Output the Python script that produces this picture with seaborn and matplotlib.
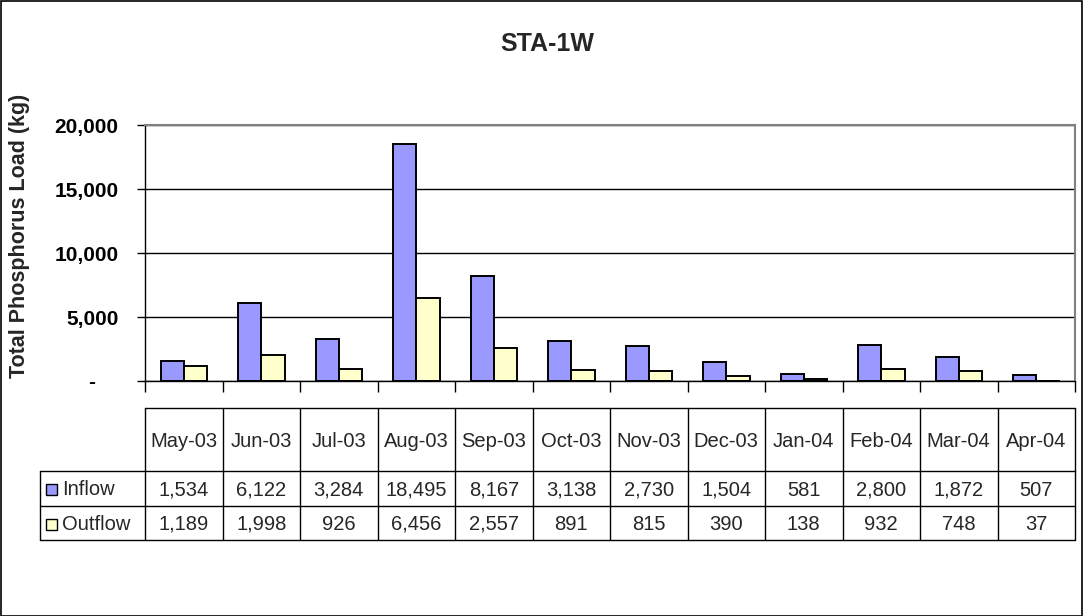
import matplotlib
matplotlib.use("Agg")
import matplotlib.pyplot as plt
import matplotlib.transforms as mtransforms
from matplotlib.lines import Line2D
from matplotlib.patches import Rectangle
import seaborn as sns
import pandas as pd

months = ["May-03", "Jun-03", "Jul-03", "Aug-03", "Sep-03", "Oct-03",
          "Nov-03", "Dec-03", "Jan-04", "Feb-04", "Mar-04", "Apr-04"]
inflow = [1534, 6122, 3284, 18495, 8167, 3138, 2730, 1504, 581, 2800, 1872, 507]
outflow = [1189, 1998, 926, 6456, 2557, 891, 815, 390, 138, 932, 748, 37]
series = ["Inflow", "Outflow"]
colors = ["#9999FF", "#FFFFCC"]
yticks = [0, 5000, 10000, 15000, 20000]

sns.set_theme(style="white")
plt.rcParams['font.family'] = ['Liberation Sans', 'DejaVu Sans']

df = pd.DataFrame({
    "Month": months * 2,
    "Load": inflow + outflow,
    "Series": [series[0]] * len(months) + [series[1]] * len(months),
})

W, H = 1083, 616
fig = plt.figure(figsize=(W / 100, H / 100), dpi=100)
fig.patch.set_facecolor("white")

# plot area pixels
x0, x1, ytop, ybot = 145, 1075, 125, 381
ax = fig.add_axes([x0 / W, (H - ybot) / H, (x1 - x0) / W, (ybot - ytop) / H])

sns.barplot(data=df, x="Month", y="Load", hue="Series", order=months,
            hue_order=series, palette=colors, width=0.6, saturation=1,
            edgecolor="black", linewidth=1.4, ax=ax, legend=False, errorbar=None)

ax.set_xlim(-0.5, len(months) - 0.5)
ax.set_ylim(0, 20000)
ax.set_yticks(yticks)
ax.set_yticklabels(["-    " if v == 0 else f"{v:,}" for v in yticks],
                   fontweight="bold", fontsize=15)
ax.yaxis.grid(True, color="black", linewidth=1)
ax.set_axisbelow(True)
ax.set_xticks([i - 0.5 for i in range(len(months) + 1)])
ax.set_xticklabels([])
ax.tick_params(axis="x", bottom=True, length=8, width=1, color="black", direction="out")
ax.tick_params(axis="y", left=True, length=6, width=1, color="black", direction="out",
               pad=13, labelcolor="black")
ax.set_xlabel("")
ax.set_ylabel("")
for s in ["left", "bottom"]:
    ax.spines[s].set_color("black")
    ax.spines[s].set_linewidth(1)
for s in ["top", "right"]:
    ax.spines[s].set_color("#808080")
    ax.spines[s].set_linewidth(1.5)

fig.text(547 / W, 1 - 44 / H, "STA-1W", ha="center", va="center",
         fontsize=18, fontweight="bold")
fig.text(20 / W, 1 - 236 / H, "Total Phosphorus Load (kg)", ha="center", va="center",
         rotation=90, fontsize=15.5, fontweight="bold")

# data table below
trans = mtransforms.blended_transform_factory(ax.transData, ax.transAxes)
hpx = ybot - ytop
def ay(py):
    return (ybot - py) / hpx

unit = (x1 - x0) / len(months)
xl = -0.5 - (x0 - 40) / unit
xr = len(months) - 0.5
r0, r1, r2, r3 = 408, 471, 506, 540

lw = 1
def hline(xa, xb, py):
    ax.add_line(Line2D([xa, xb], [ay(py), ay(py)], transform=trans, color="black",
                       lw=lw, clip_on=False))
def vline(x, pa, pb):
    ax.add_line(Line2D([x, x], [ay(pa), ay(pb)], transform=trans, color="black",
                       lw=lw, clip_on=False))

hline(-0.5, xr, r0)
hline(xl, xr, r1)
hline(xl, xr, r2)
hline(xl, xr, r3)
for i in range(len(months) + 1):
    vline(i - 0.5, r0, r3)
vline(xl, r1, r3)

fs = 14.5
for i, m in enumerate(months):
    ax.text(i, ay((r0 + r1) / 2 + 2), m, transform=trans, ha="center", va="center",
            fontsize=fs, clip_on=False)
    ax.text(i, ay((r1 + r2) / 2 + 2), f"{inflow[i]:,}", transform=trans, ha="center",
            va="center", fontsize=fs, clip_on=False)
    ax.text(i, ay((r2 + r3) / 2 + 1), f"{outflow[i]:,}", transform=trans, ha="center",
            va="center", fontsize=fs, clip_on=False)

# legend keys in row headers
sq = 11
for k, (name, col, (ra, rb)) in enumerate(zip(series, colors, [(r1, r2), (r2, r3)])):
    cy = (ra + rb) / 2 + 1
    ax.add_patch(Rectangle((-0.5 - (x0 - 46) / unit, ay(cy + sq / 2)), sq / unit, sq / hpx,
                           transform=trans, facecolor=col, edgecolor="black", lw=1,
                           clip_on=False))
    ax.text(-0.5 - (x0 - 62) / unit, ay(cy), name, transform=trans, ha="left",
            va="center", fontsize=fs, clip_on=False)

# outer border of chart
fig.add_artist(Rectangle((0.5 / W, 0.5 / H), (W - 1.5) / W, (H - 1.5) / H,
                         transform=fig.transFigure, facecolor="none", edgecolor="black",
                         lw=1.2))

fig.savefig("out.png", dpi=100)
